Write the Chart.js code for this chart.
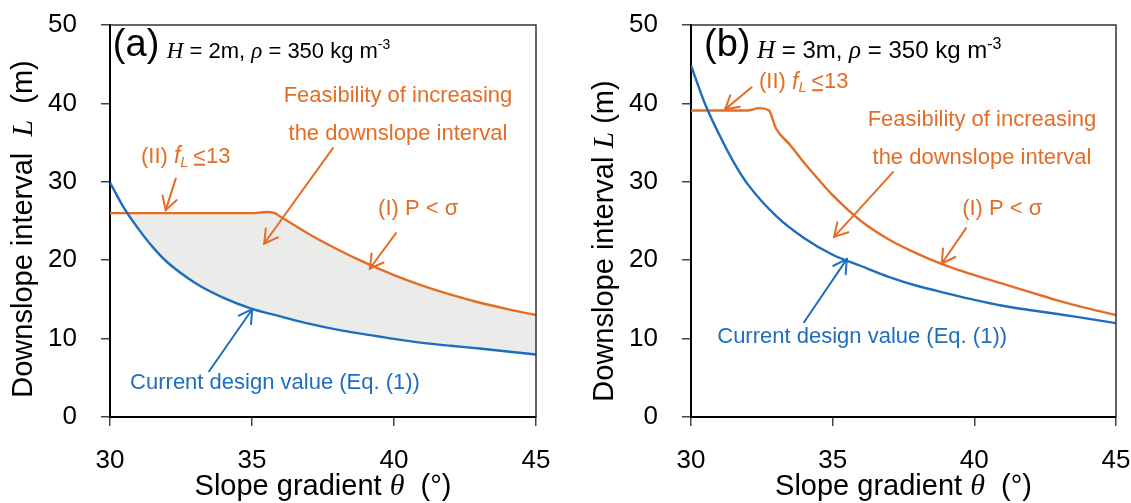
<!DOCTYPE html>
<html><head><meta charset="utf-8">
<script src="https://cdn.jsdelivr.net/npm/chart.js@4.4.0/dist/chart.umd.min.js"></script>
<style>
html,body{margin:0;padding:0;background:#fff;width:1131px;height:503px;overflow:hidden}
#wa{position:absolute;left:0;top:0;width:565px;height:503px}
#wb{position:absolute;left:565px;top:0;width:566px;height:503px}
</style></head><body>
<div id="wa"><canvas id="ca"></canvas></div>
<div id="wb"><canvas id="cb"></canvas></div>
<script>
// ---- data (slope gradient θ in degrees, downslope interval L in m) ----
const thetaDesign = [30, 30.5, 31, 31.5, 32, 33, 34, 35, 36, 37, 38, 39, 40, 41, 42, 43, 44, 45];
const designA     = [29.9, 26.6, 24.0, 21.7, 19.8, 17.1, 15.2, 13.8, 12.84, 11.9, 11.14, 10.54, 9.96, 9.46, 9.08, 8.74, 8.36, 7.98];
const designB     = [44.85, 39.9, 36.0, 32.55, 29.7, 25.65, 22.8, 20.7, 19.26, 17.85, 16.71, 15.81, 14.94, 14.19, 13.62, 13.11, 12.54, 11.97];
const thetaLimitA = [30, 35, 35.5, 35.8, 36, 37, 38, 39, 40, 41, 42, 43, 44, 45];
const limitA      = [26.0, 26.0, 26.15, 26.0, 25.55, 23.35, 21.4, 19.65, 18.1, 16.75, 15.6, 14.6, 13.75, 13.0];
const thetaLimitB = [30, 32, 32.4, 32.75, 33, 33.5, 34, 34.5, 35, 36, 37, 38, 39, 40, 41, 42, 43, 44, 45];
const limitB      = [39.1, 39.1, 39.4, 39.1, 36.8, 34.7, 32.4, 30.3, 28.3, 25.0, 22.6, 20.8, 19.3, 18.1, 17.0, 15.9, 14.8, 13.85, 13.0];
const xTicks = [30, 35, 40, 45];
const yTicks = [0, 10, 20, 30, 40, 50];

const BLUE = '#1E6DBE', ORANGE = '#E46D25', FILL = '#EBEBEA';
const SANS = '"Liberation Sans", Arial, sans-serif';
const SERIF = '"Liberation Serif", "Times New Roman", serif';

function pts(xs, ys) { return xs.map((x, i) => ({ x: x, y: ys[i] })); }

function rich(ctx, parts, x, y, align) {
  ctx.textAlign = 'left';
  let w = 0;
  parts.forEach(p => { ctx.font = p[1]; w += ctx.measureText(p[0]).width; });
  let cx = align === 'center' ? x - w / 2 : (align === 'right' ? x - w : x);
  parts.forEach(p => {
    ctx.font = p[1];
    ctx.fillText(p[0], cx, y + (p[2] || 0));
    const mw = ctx.measureText(p[0]).width;
    if (p[3]) { ctx.fillRect(cx + 1, y + 7, mw - 2, 2); }
    cx += mw;
  });
}

function arrow(ctx, x1, y1, x2, y2, color) {
  ctx.save();
  ctx.strokeStyle = color; ctx.lineWidth = 2; ctx.lineCap = 'round';
  ctx.beginPath(); ctx.moveTo(x1, y1); ctx.lineTo(x2, y2); ctx.stroke();
  const a = Math.atan2(y1 - y2, x1 - x2), L = 15, d = 0.52;
  ctx.beginPath();
  ctx.moveTo(x2 + L * Math.cos(a + d), y2 + L * Math.sin(a + d));
  ctx.lineTo(x2, y2);
  ctx.lineTo(x2 + L * Math.cos(a - d), y2 + L * Math.sin(a - d));
  ctx.stroke();
  ctx.restore();
}

function makeChart(id, design, thetaLim, lim, cfg) {
  const overlay = {
    id: 'overlay',
    afterDraw(chart) {
      const ctx = chart.ctx, ca = chart.chartArea;
      const X = v => chart.scales.x.getPixelForValue(v);
      const Y = v => chart.scales.y.getPixelForValue(v);
      ctx.save();
      // frame top/right
      ctx.strokeStyle = '#333'; ctx.lineWidth = 1.5;
      ctx.beginPath();
      ctx.moveTo(ca.left, ca.top); ctx.lineTo(ca.right, ca.top); ctx.lineTo(ca.right, ca.bottom);
      ctx.stroke();
      // axis titles
      ctx.fillStyle = '#000'; ctx.textBaseline = 'middle';
      rich(ctx, [['Slope gradient ', '29px ' + SANS], ['\u03b8', 'italic 30px ' + SERIF], ['  (\u00b0)', '29px ' + SANS]],
        (ca.left + ca.right) / 2, 487, 'center');
      ctx.save();
      ctx.translate(ca.left - 86, (ca.top + ca.bottom) / 2 + cfg.yTitleDy);
      ctx.rotate(-Math.PI / 2);
      rich(ctx, [['Downslope interval' + cfg.gap, '29px ' + SANS], ['L', 'italic 30px ' + SERIF], [cfg.gap + '(m)', '29px ' + SANS]], 0, 0, 'center');
      ctx.restore();
      // panel label & parameters
      ctx.textBaseline = 'alphabetic';
      rich(ctx, [[cfg.tag, '38px ' + SANS]], X(cfg.tagX), Y(46.0), 'left');
      const hs = cfg.hSize;
      rich(ctx, [['H', 'italic ' + (hs + 1) + 'px ' + SERIF], [' = ' + cfg.H + 'm, ', hs + 'px ' + SANS], ['\u03c1', 'italic ' + (hs + 1) + 'px ' + SERIF],
        [' = 350 kg m', hs + 'px ' + SANS], ['-3', Math.round(hs * 0.65) + 'px ' + SANS, -9]], X(cfg.hX), Y(45.85), 'left');
      // orange labels
      ctx.fillStyle = ORANGE; ctx.textBaseline = 'middle';
      rich(ctx, [['Feasibility of increasing', '22px ' + SANS]], X(cfg.feas[0]), Y(cfg.feas[1]), 'center');
      rich(ctx, [['the downslope interval', '22px ' + SANS]], X(cfg.feas[0]), Y(cfg.feas[2]), 'center');
      rich(ctx, [['(II) ', '22px ' + SANS], ['f', 'italic 23px ' + SANS], ['L', 'italic 15px ' + SANS, 6], ['\u2009', '22px ' + SANS], ['<', '22px ' + SANS, 0, true], ['13', '22px ' + SANS]],
        X(cfg.fl[0]), Y(cfg.fl[1]), 'left');
      rich(ctx, [['(I) P < \u03c3', '22px ' + SANS]], X(cfg.ps[0]), Y(cfg.ps[1]), 'left');
      ctx.fillStyle = BLUE;
      rich(ctx, [['Current design value (Eq. (1))', '22px ' + SANS]], X(cfg.cur[0]), Y(cfg.cur[1]), 'center');
      // arrows
      cfg.arrows.forEach(a => arrow(ctx, X(a[0]), Y(a[1]), X(a[2]), Y(a[3]), a[4]));
      ctx.restore();
    }
  };
  const limitDs = {
    data: pts(thetaLim, lim), borderColor: ORANGE, borderWidth: 2.4, pointRadius: 0,
    cubicInterpolationMode: 'monotone', tension: 0.4, fill: false
  };
  if (cfg.shade) limitDs.fill = { target: 0, above: FILL, below: 'rgba(0,0,0,0)' };
  return new Chart(document.getElementById(id), {
    type: 'line',
    data: {
      datasets: [
        { data: pts(thetaDesign, design), borderColor: BLUE, borderWidth: 2.4, pointRadius: 0,
          cubicInterpolationMode: 'monotone', tension: 0.4, fill: false },
        limitDs
      ]
    },
    options: {
      responsive: true, maintainAspectRatio: false, animation: false, devicePixelRatio: 1,
      layout: { padding: { top: 25, right: cfg.padR, left: 0, bottom: 0 } },
      plugins: { legend: { display: false }, tooltip: { enabled: false } },
      scales: {
        x: {
          type: 'linear', min: 30, max: 45,
          afterBuildTicks: s => { s.ticks = xTicks.map(v => ({ value: v })); },
          afterFit: s => { s.height = 86; s.paddingLeft = 0; s.paddingRight = 0; },
          ticks: { color: '#000', font: { family: SANS, size: 26 }, padding: 19, maxRotation: 0 },
          grid: { drawOnChartArea: false, drawTicks: true, tickLength: 9, color: '#444', lineWidth: 1.5 },
          border: { color: '#000', width: 2 }
        },
        y: {
          min: 0, max: 50,
          afterBuildTicks: s => { s.ticks = yTicks.map(v => ({ value: v })); },
          afterFit: s => { s.width = cfg.yW; s.paddingTop = 0; s.paddingBottom = 0; },
          ticks: { color: '#000', font: { family: SANS, size: 26 }, padding: 24 },
          grid: { drawOnChartArea: false, drawTicks: true, tickLength: 9, color: '#444', lineWidth: 1.5 },
          border: { color: '#000', width: 2 }
        }
      }
    },
    plugins: [overlay]
  });
}

makeChart('ca', designA, thetaLimitA, limitA, {
  shade: true, yW: 110, padR: 29, tag: '(a)', tagX: 30.1, hX: 32.0, H: 2, hSize: 22, gap: '  ', yTitleDy: 8,
  feas: [40.14, 40.9, 36.1], fl: [31.09, 33.2], ps: [39.44, 26.6], cur: [35.81, 4.3],
  arrows: [
    [32.32, 30.43, 31.96, 26.38, ORANGE],
    [37.85, 34.3, 35.43, 22.13, ORANGE],
    [40.07, 23.45, 39.15, 18.94, ORANGE],
    [33.49, 5.83, 35.01, 13.75, BLUE]
  ]
});
makeChart('cb', designB, thetaLimitB, limitB, {
  shade: false, yW: 126, padR: 15, tag: '(b)', tagX: 30.46, hX: 32.33, H: 3, hSize: 24, gap: ' ', yTitleDy: 20,
  feas: [40.27, 37.9, 33.0], fl: [32.4, 42.7], ps: [39.57, 26.6], cur: [36.04, 10.2],
  arrows: [
    [32.14, 42.05, 31.2, 39.24, ORANGE],
    [37.13, 31.24, 35.05, 22.98, ORANGE],
    [39.71, 24.09, 38.85, 19.58, ORANGE],
    [33.99, 12.09, 35.5, 20.13, BLUE]
  ]
});
</script>
</body></html>
